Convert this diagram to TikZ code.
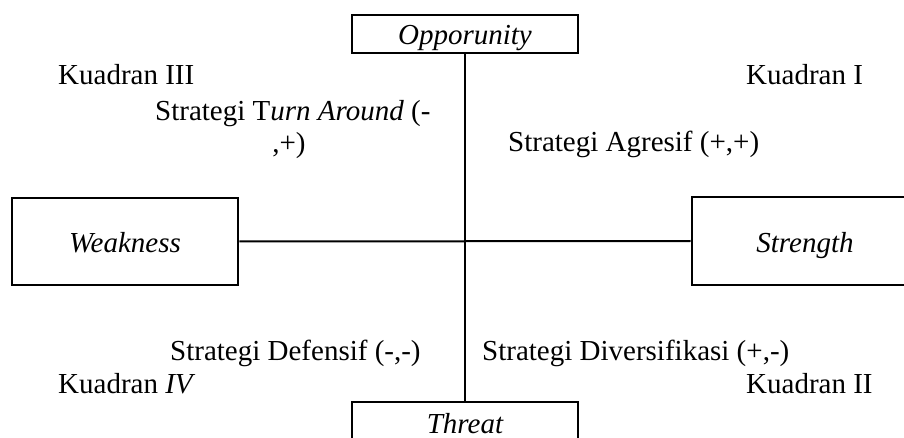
\documentclass[tikz,border=0pt]{standalone}
\usepackage{fontspec}
\setmainfont{Liberation Serif}
\begin{document}
\begin{tikzpicture}[x=1pt,y=-1pt,
  every node/.style={font=\fontsize{29}{33}\selectfont},
  lbl/.style={inner sep=0pt,anchor=base west},
  swotbox/.style={draw,line width=2.8pt,minimum width=226pt,inner sep=0pt,
    text height=22pt,text depth=0pt,font=\fontsize{29}{33}\selectfont\itshape},
  axis/.style={line width=2pt}]
\useasboundingbox (0,0) rectangle (904,438);
\fill[white] (0,0) rectangle (904,438);
% boxes
\node[swotbox,minimum height=38pt] (opp) at (465,34) {Opporunity};
\node[swotbox,minimum height=38pt,text height=24pt] (thr) at (465,421) {Threat};
\node[swotbox,minimum height=87pt] (weak) at (125,241.5) {Weakness};
\node[swotbox,minimum height=88pt] (str) at (805,241) {Strength};
% axes
\draw[axis] (opp.south) -- (thr.north);
\draw[axis] (weak.east) -- (str.west);
% labels
\node[lbl] (k3) at (58,85) {Kuadran III};
\node[lbl] (k1) at (746,85) {Kuadran I};
\node[lbl] (ta1) at (155,121) {Strategi T\textit{urn Around} (-};
\node[inner sep=0pt,anchor=base] (ta2) at (289,153) {,+)};
\node[lbl] (agr) at (508,152) {Strategi Agresif (+,+)};
\node[lbl] (def) at (170,360) {Strategi Defensif (-,-)};
\node[lbl] (div) at (482,360) {Strategi Diversifikasi (+,-)};
\node[lbl] (k4) at (58,393) {Kuadran \textit{IV}};
\node[lbl] (k2) at (746,393) {Kuadran II};
\end{tikzpicture}
\end{document}
